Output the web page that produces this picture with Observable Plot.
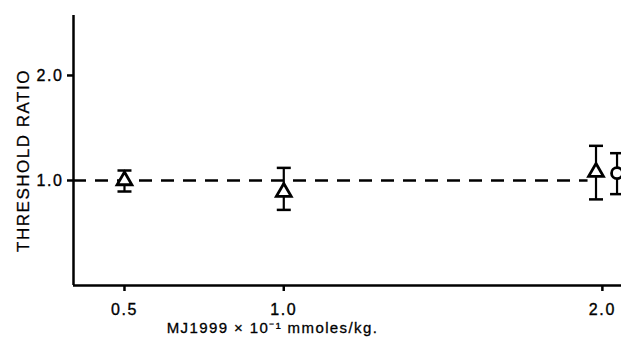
<!DOCTYPE html>
<html>
<head>
<meta charset="utf-8">
<script src="https://cdn.jsdelivr.net/npm/d3@7"></script>
<script src="https://cdn.jsdelivr.net/npm/@observablehq/plot@0.6"></script>
<style>
  html, body { margin: 0; padding: 0; background: #fff; }
  svg { display: block; }
  #chart svg g[aria-label="x-axis tick label"] text,
  #chart svg g[aria-label="y-axis tick label"] text { font-size: 16px; letter-spacing: 1.6px; stroke: #000; stroke-width: 0.35px; }
  #chart svg .ylab text { font-size: 17px; letter-spacing: 1.5px; stroke: #000; stroke-width: 0.25px; }
  #chart svg .xlab text { font-size: 15px; letter-spacing: 1.4px; stroke: #000; stroke-width: 0.3px; }
</style>
</head>
<body>
<div id="chart"></div>
<script>
// Data
const doses      = [0.5, 1.0, 1.98, 2.046];            // MJ1999 x 10^-1 mmoles/kg
const ratios     = [1.0, 0.89, 1.08, 1.07];            // threshold ratio (mean)
const lows       = [0.895, 0.72, 0.82, 0.87];          // lower error bar
const highs      = [1.095, 1.12, 1.33, 1.26];          // upper error bar
const symbols    = ["triangle", "triangle", "triangle", "circle"];
const xTicks     = [0.5, 1.0, 2.0];
const yTicks     = [1.0, 2.0];
const refY       = [1.0];
const refXStart  = 0.34;
const refXEnd    = 1.955;
const xDomain    = [0.34, 2.06];
const yDomain    = [0, 2.571];
const yLabel     = "THRESHOLD RATIO";
const xLabel     = "MJ1999 \u00d7 10\u207b\u00b9 mmoles/kg.";

const data = doses.map((d, i) => ({x: d, y: ratios[i], lo: lows[i], hi: highs[i], s: symbols[i]}));

const cap = {
  draw(context, size) {
    const w = Math.sqrt(size / Math.PI);
    context.moveTo(-w, 0);
    context.lineTo(w, 0);
  }
};

const font = "'Liberation Sans', Arial, Helvetica, sans-serif";

const chart = Plot.plot({
  width: 621,
  height: 337,
  marginLeft: 73,
  marginRight: 0,
  marginTop: 15,
  marginBottom: 52,
  style: {fontFamily: font, fontSize: "14px", color: "#000", background: "#fff", overflow: "hidden"},
  x: {domain: xDomain},
  y: {domain: yDomain},
  marks: [
    Plot.ruleY(refY, {x1: refXStart, x2: refXEnd, stroke: "#000", strokeWidth: 2.5, strokeDasharray: "13,9"}),
    Plot.ruleX([xDomain[0]], {stroke: "#000", strokeWidth: 2.5}),
    Plot.ruleY([yDomain[0]], {stroke: "#000", strokeWidth: 2.5}),
    Plot.axisX({ticks: xTicks, tickFormat: d3.format(".1f"), tickSize: 6, tickPadding: 12, strokeWidth: 2.5, label: null, fontSize: 16}),
    Plot.axisY({ticks: yTicks, tickFormat: d3.format(".1f"), tickSize: 6, tickPadding: 4, strokeWidth: 2.5, label: null, fontSize: 16}),
    Plot.ruleX(data, {x: "x", y1: "lo", y2: "hi", stroke: "#000", strokeWidth: 2.2}),
    Plot.dot(data, {x: "x", y: "lo", symbol: cap, r: 7, stroke: "#000", strokeWidth: 2.5}),
    Plot.dot(data, {x: "x", y: "hi", symbol: cap, r: 7, stroke: "#000", strokeWidth: 2.5}),
    Plot.dot(data, {x: "x", y: "y", symbol: "s", r: 5.5, stroke: "#000", fill: "#fff", strokeWidth: 2.8}),
    Plot.text([yLabel], {frameAnchor: "left", textAnchor: "middle", rotate: -90, dx: -50, dy: 10, fontSize: 17, fill: "#000", className: "ylab"}),
    Plot.text([xLabel], {frameAnchor: "bottom", dx: -75, dy: 47, fontSize: 15, fill: "#000", className: "xlab"})
  ]
});
document.getElementById("chart").appendChild(chart);
</script>
</body>
</html>
